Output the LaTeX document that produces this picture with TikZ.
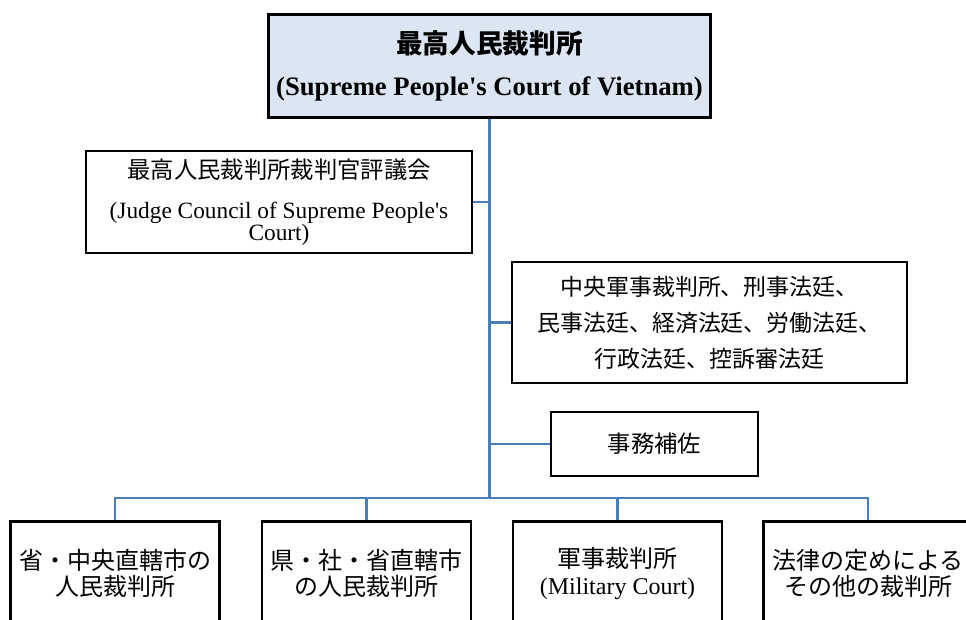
\documentclass[tikz,border=0pt]{standalone}
\usepackage{fontspec}
\setmainfont{Liberation Serif}
\newfontfamily\jp{Noto Sans CJK JP}
\usepackage{xcolor}
\usetikzlibrary{positioning}
\definecolor{linkblue}{RGB}{74,126,187}
\definecolor{headfill}{RGB}{220,230,242}

\begin{document}
\begin{tikzpicture}[x=0.75pt, y=-0.75pt,
    courtbox/.style={draw, line width=2pt, align=center, inner sep=2pt},
    lowerbox/.style={courtbox, anchor=north, minimum width=156.75pt, minimum height=78pt,
        font=\fontsize{18}{20}\selectfont},
    link/.style={draw=linkblue, line width=2pt}]
    \useasboundingbox (0,0) rectangle (966,619);
    \clip (0,0) rectangle (966,619);

    % Tòa án nhân dân tối cao
    \node[courtbox, fill=headfill, minimum width=331.5pt, minimum height=77.25pt,
        font=\fontsize{20}{31}\selectfont\bfseries] (spc) at (489.5,66)
        {{\jp 最高人民裁判所}\\(Supreme People\textquotesingle s Court of Vietnam)};

    % Các bộ phận trực thuộc
    \node[courtbox, minimum width=289.5pt, minimum height=76.5pt,
        font=\fontsize{17.5}{16.5}\selectfont] (council) at (279,202)
        {{\jp 最高人民裁判所裁判官評議会}\\[14pt](Judge Council of Supreme People\textquotesingle s\\Court)};
    \node[courtbox, minimum width=296.25pt, minimum height=90.75pt,
        font=\jp\fontsize{17.2}{27}\selectfont] (divisions) at (709.5,322.5)
        {中央軍事裁判所、刑事法廷、\\民事法廷、経済法廷、労働法廷、\\行政法廷、控訴審法廷};
    \node[courtbox, minimum width=155.25pt, minimum height=48pt,
        font=\jp\fontsize{17.5}{21}\selectfont] (admin) at (654.5,444) {事務補佐};

    % Các tòa án cấp dưới
    \node[lowerbox] (provincial) at (115,520) {{\jp 省・中央直轄市の}\\{\jp 人民裁判所}};
    \node[lowerbox] (district) at (366.5,520) {{\jp 県・社・省直轄市}\\{\jp の人民裁判所}};
    \node[lowerbox] (military) at (617.5,520) {{\jp 軍事裁判所}\\(Military Court)};
    \node[lowerbox] (other) at (868,520) {{\jp 法律の定めによる}\\{\jp その他の裁判所}};

    % Đường nối
    \coordinate (bus) at (489.5,498);
    \draw[link] (spc.south) -- (bus);
    \draw[link] (spc.south |- council.east) -- (council.east);
    \draw[link] (spc.south |- divisions.west) -- (divisions.west);
    \draw[link] (spc.south |- admin.west) -- (admin.west);
    \foreach \c in {provincial, district, military, other}
        \draw[link] (bus) -| (\c.north);
\end{tikzpicture}
\end{document}
